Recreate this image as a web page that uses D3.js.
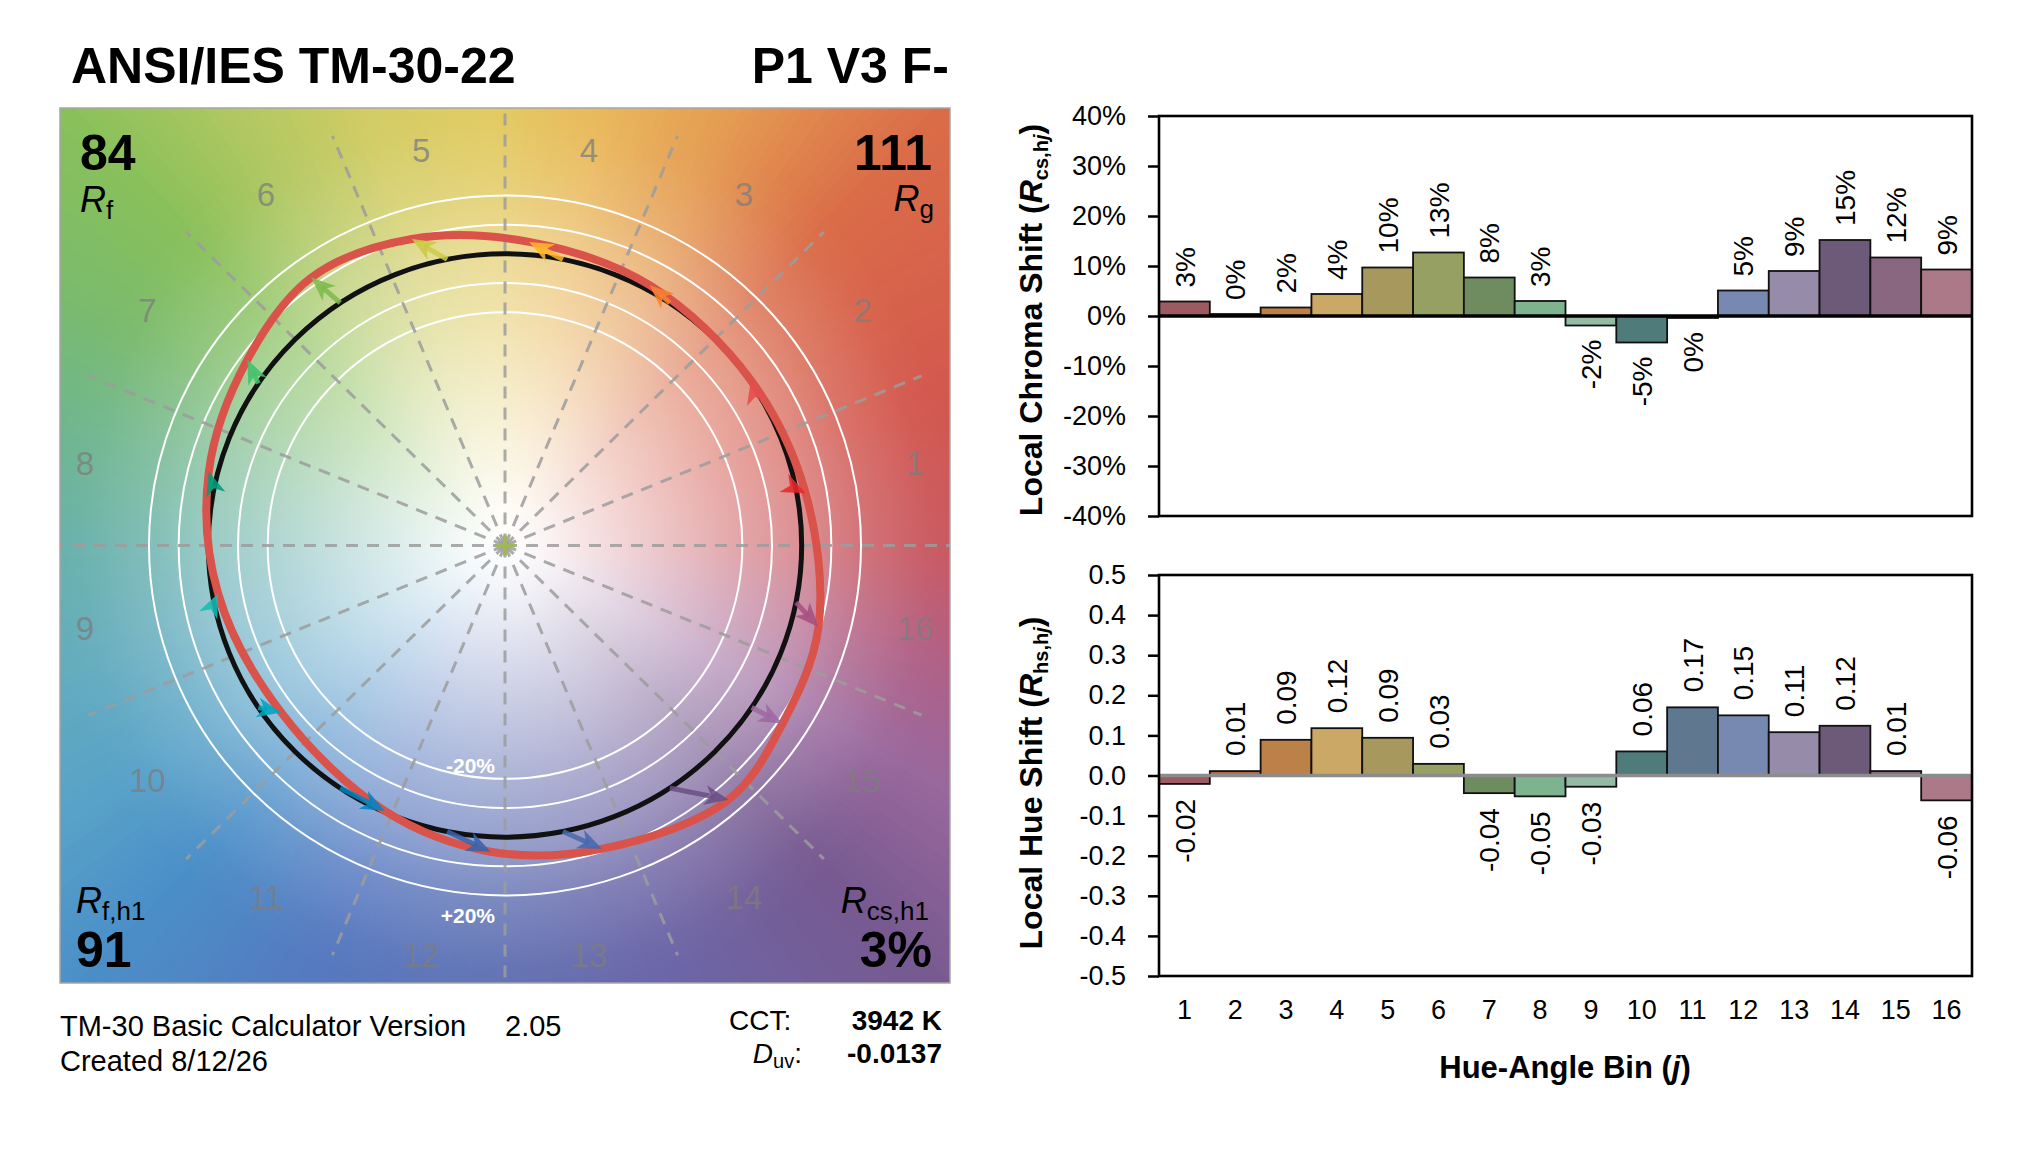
<!DOCTYPE html>
<html>
<head>
<meta charset="utf-8">
<script src="https://cdn.jsdelivr.net/npm/d3@7"></script>
<style>
  html, body { margin: 0; padding: 0; background: #ffffff; }
  svg { display: block; }
  text { font-family: "Liberation Sans", Arial, sans-serif; }
</style>
</head>
<body>
<svg id="chart" width="2038" height="1154"></svg>
<script>
// ---------------- DATA ----------------
const bins = d3.range(1, 17);                       // hue-angle bins j = 1..16
const chromaShift = [0.029, 0.004, 0.017, 0.044, 0.097, 0.127, 0.077, 0.030,
                     -0.019, -0.053, -0.004, 0.051, 0.090, 0.152, 0.117, 0.093];   // Rcs,hj
const hueShift = [-0.021, 0.011, 0.089, 0.118, 0.094, 0.029, -0.044, -0.052,
                  -0.028, 0.060, 0.170, 0.150, 0.108, 0.124, 0.011, -0.062];      // Rhs,hj (rad)
const chromaTicks = [0.4, 0.3, 0.2, 0.1, 0, -0.1, -0.2, -0.3, -0.4];
const hueTicks = [0.5, 0.4, 0.3, 0.2, 0.1, 0, -0.1, -0.2, -0.3, -0.4, -0.5];
const refRings = [0.8, 0.9, 1.1, 1.2];              // -20%, -10%, +10%, +20% chroma rings
const metrics = { Rf: "84", Rg: "111", Rfh1: "91", Rcsh1: "3%", cct: "3942 K", duv: "-0.0137" };
const titleText = "ANSI/IES TM-30-22";
const sourceText = "P1 V3 F-";
const versionText = "TM-30 Basic Calculator Version";
const versionNum = "2.05";
const createdText = "Created 8/12/26";

// ---------------- STYLE ----------------
const arrowColors = ["#e62828","#e74b4b","#fb812e","#ffb529","#cbca46","#7eb94c","#41c06d","#009c7c",
                     "#16bcb0","#00a4bf","#0085c3","#3b62aa","#4568ae","#6a4e85","#9d69a1","#a74f81"];
const barColors = ["#9b5b60","#b5694c","#bc8149","#cca866","#a7985d","#95a062","#6f8c61","#7db48f",
                   "#92bca5","#4f7b7a","#5f7890","#7789b1","#968ba9","#6d5a79","#8a6781","#ac7989"];
const bgStops = [[0,"#c95860"],[20,"#d3584e"],[45,"#da6c48"],[62,"#e49a52"],[78,"#e9b85a"],[92,"#e2ca60"],
                 [108,"#d2cc64"],[122,"#b2c862"],[136,"#88c05a"],[150,"#7abb6c"],[164,"#70b68c"],[180,"#68b1aa"],
                 [196,"#64acbe"],[212,"#58a2c8"],[226,"#4a8fc8"],[246,"#5679c0"],[270,"#6171b3"],[292,"#6c66a7"],
                 [315,"#775a91"],[332,"#9a689d"],[347,"#b35f82"],[360,"#c95860"]];
const FONT = '"Liberation Sans", Arial, sans-serif';

const svg = d3.select("#chart");

// ================= LEFT: COLOR VECTOR GRAPHIC =================
const L = { x0: 60, x1: 950, y0: 108, y1: 983 };
const xS = d3.scaleLinear().domain([-1.5, 1.5]).range([L.x0, L.x1]);
const yS = d3.scaleLinear().domain([-1.5, 1.5]).range([L.y1, L.y0]);
const cx = xS(0), cy = yS(0);
const rx = r => xS(r) - xS(0);
const ry = r => yS(0) - yS(r);
const P = (r, th) => [xS(r * Math.cos(th)), yS(r * Math.sin(th))];

const defs = svg.append("defs");
defs.append("clipPath").attr("id", "sq").append("rect")
  .attr("x", L.x0).attr("y", L.y0).attr("width", L.x1 - L.x0).attr("height", L.y1 - L.y0);
const rg = defs.append("radialGradient").attr("id", "whiteGlow")
  .attr("gradientUnits", "userSpaceOnUse").attr("cx", cx).attr("cy", cy).attr("r", rx(1.55));
[[0, 1], [0.1, 0.92], [0.3, 0.7], [0.5, 0.48], [0.65, 0.33], [0.78, 0.16], [0.92, 0.03], [1, 0]].forEach(([o, a]) =>
  rg.append("stop").attr("offset", o).attr("stop-color", "#ffffff").attr("stop-opacity", a));

const bgColor = deg => {
  for (let i = 0; i < bgStops.length - 1; i++) {
    const [a0, c0] = bgStops[i], [a1, c1] = bgStops[i + 1];
    if (deg >= a0 && deg <= a1) return d3.interpolateRgb(c0, c1)((deg - a0) / (a1 - a0));
  }
  return bgStops[0][1];
};

const left = svg.append("g");
const bg = left.append("g").attr("clip-path", "url(#sq)");
const wedgeR = 900;
bg.selectAll("path.wedge").data(d3.range(0, 360, 1)).join("path")
  .attr("fill", d => bgColor(d + 0.5))
  .attr("d", d => {
    const a0 = (d - 0.4) * Math.PI / 180, a1 = (d + 1.4) * Math.PI / 180;
    return `M${cx},${cy}L${cx + wedgeR * Math.cos(a0)},${cy - wedgeR * Math.sin(a0)}` +
           `L${cx + wedgeR * Math.cos(a1)},${cy - wedgeR * Math.sin(a1)}Z`;
  });
bg.append("rect").attr("x", L.x0).attr("y", L.y0).attr("width", L.x1 - L.x0).attr("height", L.y1 - L.y0)
  .attr("fill", "url(#whiteGlow)");

// white chroma rings
left.selectAll("ellipse.ring").data(refRings).join("ellipse")
  .attr("cx", cx).attr("cy", cy).attr("rx", d => rx(d)).attr("ry", d => ry(d))
  .attr("fill", "none").attr("stroke", "#ffffff").attr("stroke-width", 2);

// dashed bin boundaries
left.append("g").attr("clip-path", "url(#sq)").selectAll("line").data(d3.range(16)).join("line")
  .attr("x1", cx).attr("y1", cy)
  .attr("x2", d => P(1.52, d * Math.PI / 8)[0]).attr("y2", d => P(1.52, d * Math.PI / 8)[1])
  .attr("stroke", "#9c9c9c").attr("stroke-opacity", 0.85).attr("stroke-width", 3)
  .attr("stroke-dasharray", "12,9");

// hue bin number labels
const labR = 1.45;
left.selectAll("text.bin").data(bins).join("text")
  .attr("x", d => Math.max(L.x0 + 25, Math.min(L.x1 - 35, P(labR, (d - 0.5) * Math.PI / 8)[0])))
  .attr("y", d => Math.max(L.y0 + 42, Math.min(L.y1 - 28, P(labR, (d - 0.5) * Math.PI / 8)[1])))
  .attr("text-anchor", "middle").attr("dy", "0.36em")
  .attr("font-size", 33).attr("fill", "#7d7d7d").attr("fill-opacity", 0.75)
  .text(d => d);

// reference circle
left.append("ellipse").attr("cx", cx).attr("cy", cy).attr("rx", rx(1)).attr("ry", ry(1))
  .attr("fill", "none").attr("stroke", "#111111").attr("stroke-width", 5);

// test source line
const testPts = bins.map((b, i) => {
  const th = (b - 0.5) * Math.PI / 8 + hueShift[i];
  return P(1 + chromaShift[i], th);
});
left.append("path").datum(testPts)
  .attr("d", d3.line().curve(d3.curveCatmullRomClosed.alpha(0.5)))
  .attr("fill", "none").attr("stroke", "#d9534a").attr("stroke-width", 8).attr("stroke-linejoin", "round");

// arrows (reference -> test)
const headL = 24, headW = 20;
const arrows = left.append("g");
bins.forEach((b, i) => {
  const ref = P(1, (b - 0.5) * Math.PI / 8);
  const tip = testPts[i];
  const dx = tip[0] - ref[0], dy = tip[1] - ref[1];
  const len = Math.hypot(dx, dy);
  const ang = Math.atan2(dy, dx);
  const col = arrowColors[i];
  const back = headL * 0.6;
  if (len > back) {
    arrows.append("line")
      .attr("x1", ref[0]).attr("y1", ref[1])
      .attr("x2", tip[0] - Math.cos(ang) * back).attr("y2", tip[1] - Math.sin(ang) * back)
      .attr("stroke", col).attr("stroke-width", 5).attr("stroke-opacity", 0.85);
  }
  arrows.append("path")
    .attr("d", `M0,0L${-headL},${-headW / 2}L${-headL * 0.72},0L${-headL},${headW / 2}Z`)
    .attr("transform", `translate(${tip[0]},${tip[1]}) rotate(${ang * 180 / Math.PI})`)
    .attr("fill", col).attr("fill-opacity", 0.88);
});

// centre marker
left.append("path").attr("d", `M${cx - 10},${cy}H${cx + 10}M${cx},${cy - 10}V${cy + 10}`)
  .attr("stroke", "#9fb85c").attr("stroke-width", 4);

// ring labels
left.append("text").attr("x", cx - 10).attr("y", yS(-0.8) - 6).attr("text-anchor", "end")
  .attr("font-size", 21).attr("font-weight", "bold").attr("fill", "#ffffff").text("-20%");
left.append("text").attr("x", cx - 10).attr("y", yS(-1.2) + 27).attr("text-anchor", "end")
  .attr("font-size", 21).attr("font-weight", "bold").attr("fill", "#ffffff").text("+20%");

// panel border
left.append("rect").attr("x", L.x0).attr("y", L.y0).attr("width", L.x1 - L.x0).attr("height", L.y1 - L.y0)
  .attr("fill", "none").attr("stroke", "#a6a6a6").attr("stroke-width", 1.5);

// corner metrics
function rLabel(x, y, anchor, sub) {
  const t = left.append("text").attr("x", x).attr("y", y).attr("text-anchor", anchor).attr("font-size", 36);
  t.append("tspan").attr("font-style", "italic").text("R");
  t.append("tspan").attr("font-size", 26).attr("dy", 7).text(sub);
}
left.append("text").attr("x", 80).attr("y", 170).attr("font-size", 50).attr("font-weight", "bold").text(metrics.Rf);
rLabel(80, 212, "start", "f");
left.append("text").attr("x", 932).attr("y", 170).attr("text-anchor", "end").attr("font-size", 50).attr("font-weight", "bold").text(metrics.Rg);
rLabel(934, 211, "end", "g");
rLabel(76, 913, "start", "f,h1");
left.append("text").attr("x", 76).attr("y", 967).attr("font-size", 50).attr("font-weight", "bold").text(metrics.Rfh1);
rLabel(929, 913, "end", "cs,h1");
left.append("text").attr("x", 932).attr("y", 967).attr("text-anchor", "end").attr("font-size", 50).attr("font-weight", "bold").text(metrics.Rcsh1);

// titles
svg.append("text").attr("x", 71).attr("y", 83).attr("font-size", 50).attr("font-weight", "bold").text(titleText);
svg.append("text").attr("x", 949).attr("y", 83).attr("text-anchor", "end").attr("font-size", 50).attr("font-weight", "bold").text(sourceText);

// footer
svg.append("text").attr("x", 60).attr("y", 1036).attr("font-size", 29).text(versionText);
svg.append("text").attr("x", 505).attr("y", 1036).attr("font-size", 29).text(versionNum);
svg.append("text").attr("x", 60).attr("y", 1071).attr("font-size", 29).text(createdText);
svg.append("text").attr("x", 729).attr("y", 1030).attr("font-size", 28).text("CCT:");
svg.append("text").attr("x", 942).attr("y", 1030).attr("text-anchor", "end").attr("font-size", 28).attr("font-weight", "bold").text(metrics.cct);
const duv = svg.append("text").attr("x", 802).attr("y", 1063).attr("text-anchor", "end").attr("font-size", 28);
duv.append("tspan").attr("font-style", "italic").text("D");
duv.append("tspan").attr("font-size", 20).attr("dy", 5).text("uv");
duv.append("tspan").attr("dy", -5).text(":");
svg.append("text").attr("x", 942).attr("y", 1063).attr("text-anchor", "end").attr("font-size", 28).attr("font-weight", "bold").text(metrics.duv);

// ================= RIGHT: BAR CHARTS =================
const xB = d3.scaleBand().domain(bins).range([1159, 1972]).padding(0);
const yC = d3.scaleLinear().domain([-0.4, 0.4]).range([516, 116]);
const yH = d3.scaleLinear().domain([-0.5, 0.5]).range([976, 575]);
const fmtPct = v => { const n = Math.round(v * 100); return (n === 0 ? 0 : n) + "%"; };
const fmtHue = v => { const s = v.toFixed(2); return s === "-0.00" ? "0.00" : s; };

function barPanel(yScale, values, ticks, tickFmt, labelFmt, zeroColor, gap) {
  const g = svg.append("g");
  g.selectAll("rect.bar").data(values).join("rect")
    .attr("x", (d, i) => xB(bins[i])).attr("width", xB.bandwidth())
    .attr("y", d => Math.min(yScale(0), yScale(d)))
    .attr("height", d => Math.abs(yScale(d) - yScale(0)))
    .attr("fill", (d, i) => barColors[i]).attr("stroke", "#111").attr("stroke-width", 1.8);
  g.append("line").attr("x1", xB.range()[0]).attr("x2", xB.range()[1])
    .attr("y1", yScale(0)).attr("y2", yScale(0)).attr("stroke", zeroColor).attr("stroke-width", 3.5);
  g.append("rect").attr("x", xB.range()[0]).attr("y", yScale.range()[1])
    .attr("width", xB.range()[1] - xB.range()[0]).attr("height", yScale.range()[0] - yScale.range()[1])
    .attr("fill", "none").attr("stroke", "#000").attr("stroke-width", 2.6);
  const ax = g.append("g").attr("transform", `translate(${xB.range()[0]},0)`)
    .call(d3.axisLeft(yScale).tickValues(ticks).tickFormat(tickFmt).tickSize(11).tickSizeOuter(0).tickPadding(22));
  ax.select(".domain").remove();
  ax.selectAll(".tick line").attr("stroke", "#000").attr("stroke-width", 2.5);
  ax.selectAll(".tick text").attr("font-size", 27).attr("font-family", FONT).attr("fill", "#000");
  g.selectAll("text.dl").data(values).join("text")
    .attr("transform", (d, i) => {
      const x = xB(bins[i]) + xB.bandwidth() / 2;
      const y = d >= 0 ? yScale(d) - gap : yScale(d) + gap;
      return `translate(${x},${y}) rotate(-90)`;
    })
    .attr("text-anchor", d => d >= 0 ? "start" : "end")
    .attr("dy", "0.36em").attr("font-size", 28).text(d => labelFmt(d));
  return g;
}

barPanel(yC, chromaShift, chromaTicks, fmtPct, fmtPct, "#000000", 14);
barPanel(yH, hueShift, hueTicks, d => { const s = d.toFixed(1); return s === "-0.0" ? "0.0" : s; }, fmtHue, "#8c8c8c", 15);

// x axis (hue chart)
const xa = svg.append("g").attr("transform", `translate(0,${yH(-0.5)})`)
  .call(d3.axisBottom(xB).tickSize(0).tickPadding(24));
xa.select(".domain").remove();
xa.selectAll(".tick text").attr("font-size", 27).attr("font-family", FONT).attr("fill", "#000");

// axis titles
function yTitle(y, main, sub) {
  const t = svg.append("text").attr("transform", `translate(1042,${y}) rotate(-90)`)
    .attr("text-anchor", "middle").attr("font-size", 32).attr("font-weight", "bold");
  t.append("tspan").text(main + " (");
  t.append("tspan").attr("font-style", "italic").text("R");
  t.append("tspan").attr("font-size", 20).attr("dy", 6).text(sub);
  t.append("tspan").attr("font-size", 20).attr("font-style", "italic").text("j");
  t.append("tspan").attr("dy", -6).text(")");
}
yTitle(320, "Local Chroma Shift", "cs,h");
yTitle(783, "Local Hue Shift", "hs,h");

const xt = svg.append("text").attr("x", 1565).attr("y", 1078).attr("text-anchor", "middle")
  .attr("font-size", 31).attr("font-weight", "bold");
xt.append("tspan").text("Hue-Angle Bin (");
xt.append("tspan").attr("font-style", "italic").text("j");
xt.append("tspan").text(")");
</script>
</body>
</html>
